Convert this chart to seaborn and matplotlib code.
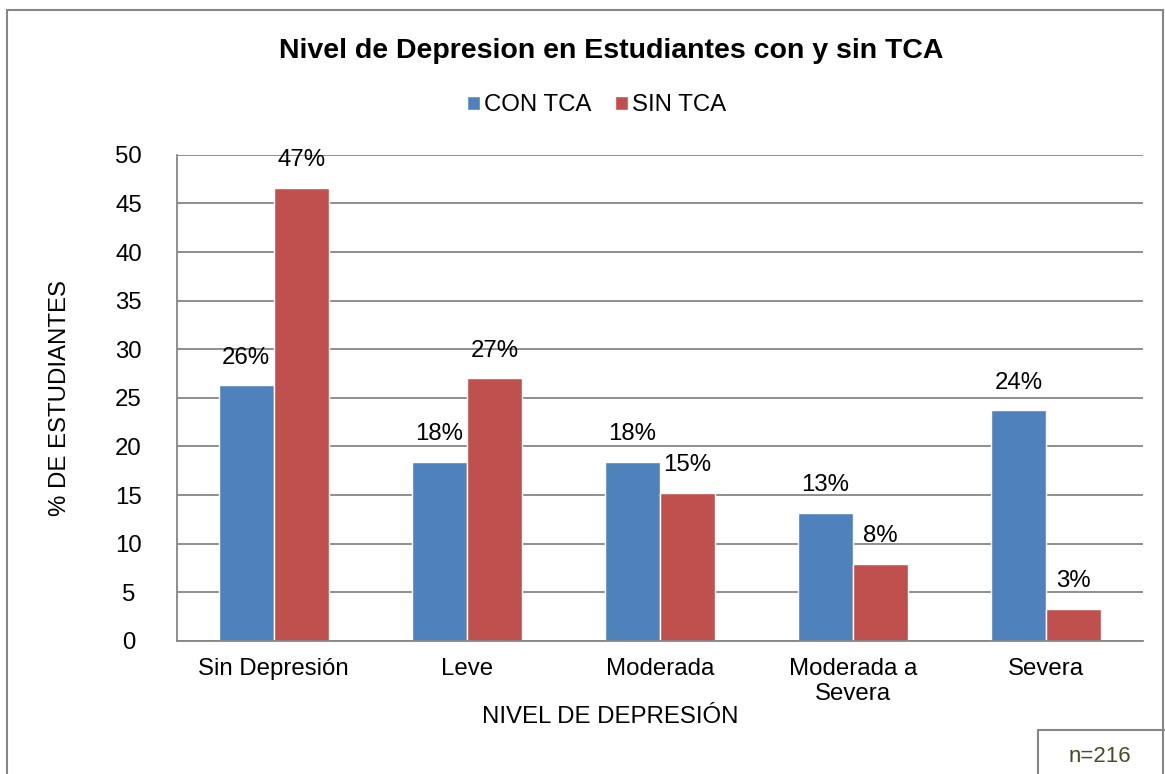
import seaborn as sns
import pandas as pd
import matplotlib.pyplot as plt
from matplotlib.patches import Rectangle

niveles = ["Sin Depresión", "Leve", "Moderada", "Moderada a\nSevera", "Severa"]
con_tca = [26.3, 18.4, 18.4, 13.2, 23.7]
sin_tca = [46.6, 27.0, 15.2, 7.9, 3.3]
series = ["CON TCA", "SIN TCA"]
colores = ["#4F81BD", "#C0504D"]

df = pd.DataFrame({
    "nivel": niveles * 2,
    "pct": con_tca + sin_tca,
    "grupo": [series[0]] * len(niveles) + [series[1]] * len(niveles),
})

sns.set_style("white")
plt.rcParams["font.family"] = ["Liberation Sans", "DejaVu Sans"]
plt.rcParams["text.color"] = "black"
plt.rcParams["axes.labelcolor"] = "black"
plt.rcParams["xtick.color"] = "black"
plt.rcParams["ytick.color"] = "black"

fs = 17.3
gris = "#868686"

fig = plt.figure(figsize=(11.65, 7.74), dpi=100)
ax = fig.add_axes([0.152, 0.172, 0.829, 0.628])

sns.barplot(data=df, x="nivel", y="pct", hue="grupo", palette=colores,
            width=0.57, saturation=1, ax=ax, legend=True)

for cont in ax.containers:
    ax.bar_label(cont, labels=[f"{round(b.get_height()):d}%" for b in cont],
                 padding=12, fontsize=fs)

ax.set_ylim(0, 50)
ax.set_xlim(-0.5, 4.5)
ax.set_yticks(range(0, 51, 5))
ax.yaxis.grid(True, color=gris, linewidth=1.3)
ax.set_axisbelow(True)
for s in ["top", "right"]:
    ax.spines[s].set_visible(False)
for s in ["left", "bottom"]:
    ax.spines[s].set_color(gris)
    ax.spines[s].set_linewidth(1.3)

ax.set_xticks([i - 0.5 for i in range(6)], minor=True)
ax.tick_params(axis="x", which="major", length=0, labelsize=fs, pad=12)
ax.tick_params(axis="x", which="minor", length=6, color=gris, width=1.3)
ax.tick_params(axis="y", length=6, color=gris, width=1.3, labelsize=fs, pad=29)
for t in ax.get_yticklabels():
    t.set_horizontalalignment("center")

ax.set_xlabel("NIVEL DE DEPRESIÓN", fontsize=fs)
ax.set_ylabel("% DE ESTUDIANTES", fontsize=fs)
ax.xaxis.set_label_coords(0.448, -0.156)
ax.yaxis.set_label_coords(-0.121, 0.5)
ax.xaxis.label.set_verticalalignment("center")
ax.yaxis.label.set_verticalalignment("center")

h, l = ax.get_legend_handles_labels()
ax.legend_.remove()
fig.legend(h, l, loc="center", bbox_to_anchor=(0.512, 0.864), ncol=2, frameon=False,
           fontsize=fs, handlelength=0.55, handleheight=0.55, handletextpad=0.15,
           columnspacing=1.0)

fig.text(0.525, 0.934, "Nivel de Depresion en Estudiantes con y sin TCA",
         ha="center", va="center", fontsize=20.5, fontweight="bold")

fig.patches.append(Rectangle((0.006, -0.01), 0.992, 0.997, transform=fig.transFigure,
                             fill=False, edgecolor=gris, linewidth=1.5))
fig.patches.append(Rectangle((0.891, -0.01), 0.12, 0.067, transform=fig.transFigure,
                             fill=False, edgecolor=gris, linewidth=1.5))
fig.text(0.944, 0.022, "n=216", ha="center", va="center", fontsize=16, color="#4A4A2A")

fig.savefig("out.png", dpi=100)
